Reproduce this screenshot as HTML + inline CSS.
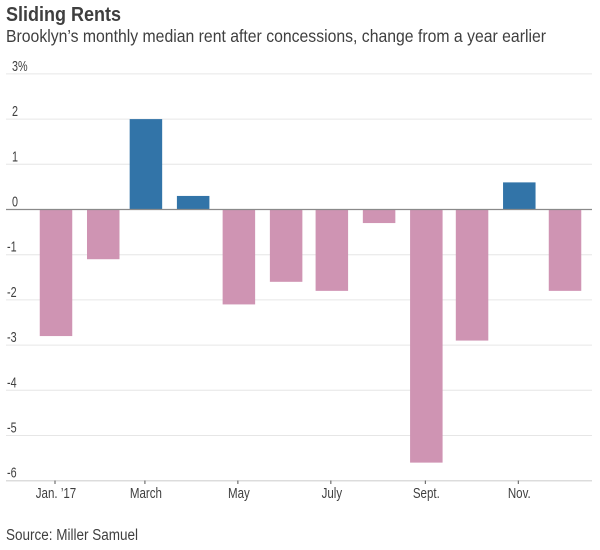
<!DOCTYPE html>
<html>
<head>
<meta charset="utf-8">
<style>
html,body{margin:0;padding:0;background:#fff;}
svg{display:block;}
text{font-family:"Liberation Sans",sans-serif;fill:#3f3f3f;}
</style>
</head>
<body>
<svg id="chart" width="600" height="550" viewBox="0 0 600 550" xmlns="http://www.w3.org/2000/svg">
<text x="6" y="21" font-size="20" font-weight="bold" textLength="115" lengthAdjust="spacingAndGlyphs">Sliding Rents</text>
<text x="6" y="42" font-size="17.5" textLength="540" lengthAdjust="spacingAndGlyphs">Brooklyn’s monthly median rent after concessions, change from a year earlier</text>
<text x="6" y="540" font-size="15.5" textLength="132" lengthAdjust="spacingAndGlyphs">Source: Miller Samuel</text>
<g id="grid"></g>
<g id="bars"></g>
<g id="axis"></g>
</svg>
<script>
var months = ['Jan','Feb','March','Apr','May','June','July','Aug','Sept','Oct','Nov','Dec'];
var monthStartDay = [0,31,59,90,120,151,181,212,243,273,304,334];
var rentChange = [-2.8,-1.1,2.0,0.3,-2.1,-1.6,-1.8,-0.3,-5.6,-2.9,0.6,-1.8];
var yTicks = [3,2,1,0,-1,-2,-3,-4,-5,-6];
var yTickLabels = ['3%','2','1','0','-1','-2','-3','-4','-5','-6'];
var xTickMonths = [0,2,4,6,8,10];
var xTickLabels = ['Jan. ’17','March','May','July','Sept.','Nov.'];

var NS = 'http://www.w3.org/2000/svg';
function yScale(v){ return 209.5 - 45.2 * v; }
function xScale(day){ return 56 + 1.524 * day; }
var barW = 32.5;
var gridG = document.getElementById('grid');
var barsG = document.getElementById('bars');
var axisG = document.getElementById('axis');
function make(tag, attrs, parent){
  var el = document.createElementNS(NS, tag);
  for (var k in attrs) el.setAttribute(k, attrs[k]);
  parent.appendChild(el);
  return el;
}
function squeeze(el, factor){
  var w = el.getComputedTextLength();
  el.setAttribute('textLength', (w * factor).toFixed(1));
  el.setAttribute('lengthAdjust', 'spacingAndGlyphs');
}
yTicks.forEach(function(t, i){
  var y = yScale(t);
  if (t !== 0) {
    var line = make('line', {x1:6, x2:592, y1:y, y2:y, stroke: t === -6 ? '#dcdcdc' : '#e6e6e6', 'stroke-width': t === -6 ? 1.5 : 1}, gridG);
    
    
  }
  var label = make('text', {x: t < 0 ? 7 : 12, y: y - 3, 'font-size': 15}, gridG);
  label.textContent = yTickLabels[i];
  
  
  squeeze(label, 0.72);
});
rentChange.forEach(function(v, i){
  var top = yScale(Math.max(v, 0));
  var bottom = yScale(Math.min(v, 0));
  var bar = make('rect', {x: xScale(monthStartDay[i]) - barW / 2, y: top, width: barW, height: bottom - top, fill: v >= 0 ? '#3274a8' : '#cf94b3'}, barsG);
  
  
});
var zero = make('line', {x1:6, x2:592, y1:yScale(0), y2:yScale(0), stroke:'#8a8a8a', 'stroke-width':1.2}, axisG);


xTickMonths.forEach(function(m, i){
  var x = xScale(monthStartDay[m]) - 1;
  var tick = make('line', {x1:x, x2:x, y1:480.6, y2:484, stroke:'#555', 'stroke-width':1}, axisG);
  
  
  var label = make('text', {x:x + 1, y:498, 'font-size':15, 'text-anchor':'middle'}, axisG);
  label.textContent = xTickLabels[i];
  
  
  squeeze(label, 0.77);
});
</script>
</body>
</html>
